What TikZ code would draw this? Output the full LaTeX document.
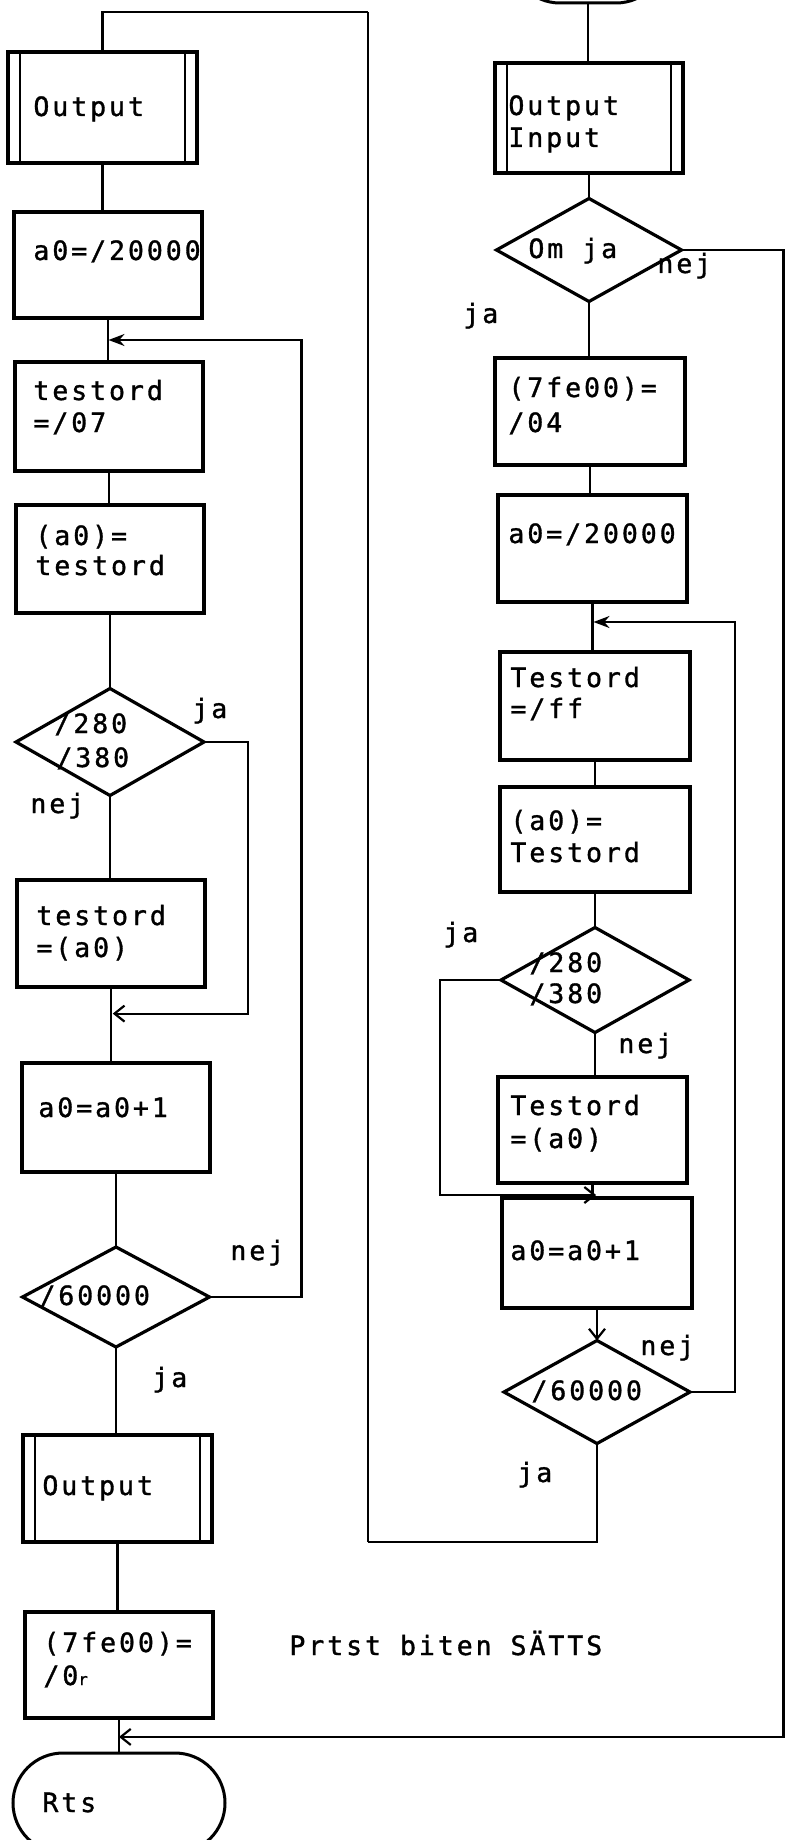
\documentclass[tikz,border=0pt]{standalone}
\usepackage{fontspec}
\newfontfamily\monof[LetterSpace=10.9,FakeBold=1.2]{DejaVu Sans Mono}
\usetikzlibrary{shapes.geometric,arrows.meta,calc}
\newcommand\bx[6][box]{\node[#1, minimum width={(#5-#3)*0.5pt}, minimum height={(#6-#4)*0.5pt}] (#2) at ({(#3+#5)/2},{(#4+#6)/2}) {};}
\newcommand\dm[5]{\node[dia, minimum width={#4*0.5pt}, minimum height={#5*0.5pt}] (#1) at (#2,#3) {};}
\tikzset{
  box/.style={draw, rectangle, line width=1.6pt, inner sep=0pt, outer sep=0pt},
  sub/.style={box},
  term/.style={draw, rectangle, rounded corners=25pt, line width=1.5pt, inner sep=0pt, outer sep=0pt},
  dia/.style={draw, diamond, line width=1.6pt, inner sep=0pt, outer sep=0pt},
  conn/.style={line width=1.1pt},
  longline/.style={line width=0.9pt},
  innerbar/.style={line width=1pt},
  txt/.style={inner sep=0pt, anchor=base west, font=\monof\fontsize{13.3}{16}\selectfont},
  fillarrow/.style={-{Stealth[length=8pt,width=6pt]}},
  barbarrow/.style={-{Straight Barb[length=5pt,width=8pt,line width=1.1pt]}}
}
\begin{document}
\begin{tikzpicture}[x=0.5pt,y=-0.5pt]
\useasboundingbox (0,0) rectangle (786,1840);
\clip (0,0) rectangle (786,1840);

% ---------------- left column ----------------
\bx[sub]{out1}{8}{52}{197}{163}
\bx{b1}{14}{212}{202}{318}
\bx{b2}{15}{362}{203}{471}
\bx{b3}{16}{505}{204}{613}
\dm{d1}{110}{742}{188}{107}
\bx{b4}{17}{880}{205}{987}
\bx{b5}{22}{1063}{210}{1172}
\dm{d2}{116}{1297}{187}{100}
\bx[sub]{out2}{23}{1435}{212}{1542}
\bx{b6}{25}{1612}{213}{1718}
\bx[term]{rts}{13}{1753}{225}{1853}

% ---------------- right column ----------------
\node[term, minimum width=78pt, minimum height=50pt] (start) at (588,-47) {};
\bx[sub]{outin}{495}{63}{683}{173}
\dm{d3}{589}{250}{185}{103}
\bx{b7}{495}{358}{685}{465}
\bx{b8}{498}{495}{687}{602}
\bx{b9}{500}{652}{690}{760}
\bx{b10}{500}{787}{690}{892}
\dm{d4}{595}{980}{188}{105}
\bx{b11}{498}{1077}{687}{1183}
\bx{b12}{502}{1198}{692}{1308}
\dm{d5}{597}{1392}{186}{103}

% subroutine bars
\foreach \n in {out1,out2,outin}{
  \draw[innerbar] ([xshift=6pt]\n.north west) -- ([xshift=6pt]\n.south west);
  \draw[innerbar] ([xshift=-6pt]\n.north east) -- ([xshift=-6pt]\n.south east);
}

% merge points
\coordinate (m1) at ($(b1.south)!0.5!(b2.north)$);
\coordinate (m2) at ($(b4.south)!0.35!(b5.north)$);
\coordinate (m3) at ($(b8.south)!0.4!(b9.north)$);
\coordinate (m4) at ($(b11.south)!0.8!(b12.north)$);
\coordinate (m5) at ($(b6.south)!0.54!(rts.north)$);
\coordinate (cA) at (368,1542);
\coordinate (cB) at (368,12);

% left connectors
\draw[conn] (out1.south) -- (out1.south |- b1.north);
\draw[conn] (b1.south) -- (b1.south |- b2.north);
\draw[conn] (b2.south) -- (b2.south |- b3.north);
\draw[conn] (b3.south) -- (d1.north);
\draw[conn] (d1.south) -- (d1.south |- b4.north);
\draw[conn] (b4.south) -- (b4.south |- b5.north);
\draw[conn] (b5.south) -- (d2.north);
\draw[conn] (d2.south) -- (d2.south |- out2.north);
\draw[conn] (out2.south) -- (out2.south |- b6.north);
\draw[conn] (b6.south) -- (b6.south |- rts.north);
\draw[conn, barbarrow] (d1.east) -- ++(44,0) |- (m2);
\draw[conn, fillarrow] (d2.east) -- ++(92,0) |- (m1);

% right connectors
\draw[conn] (start.south) -- (start.south |- outin.north);
\draw[conn] (outin.south) -- (d3.north);
\draw[conn] (d3.south) -- (d3.south |- b7.north);
\draw[conn] (b7.south) -- (b7.south |- b8.north);
\draw[conn] (b8.south) -- (b8.south |- b9.north);
\draw[conn] (b9.south) -- (b9.south |- b10.north);
\draw[conn] (b10.south) -- (d4.north);
\draw[conn] (d4.south) -- (d4.south |- b11.north);
\draw[conn] (b11.south) -- (b11.south |- b12.north);
\draw[conn, barbarrow] (b12.south) -- (d5.north);
\draw[conn, barbarrow] (d4.west) -- ++(-61,0) |- (m4);
\draw[conn, fillarrow] (d5.east) -- ++(45,0) |- (m3);
\draw[conn, barbarrow] (d3.east) -- ++(102,0) |- (m5);
\draw[conn] (d5.south) |- (cA);
\draw[longline] (cA) -- (cB);
\draw[conn] (cB) -| (out1.north);

% ---------------- texts ----------------
\node[txt] (t1) at (33,116) {Output};
\node[txt] (t2) at (33,260) {a0=/20000};
\node[txt] (t3a) at (33,400) {testord};
\node[txt] (t3b) at (33,432) {=/07};
\node[txt] (t4a) at (35,545) {(a0)=};
\node[txt] (t4b) at (35,575) {testord};
\node[txt] (t5a) at (54,733) {/280};
\node[txt] (t5b) at (56,767) {/380};
\node[txt] (l1) at (192,718) {ja};
\node[txt] (l2) at (30,813) {nej};
\node[txt] (t6a) at (36,925) {testord};
\node[txt] (t6b) at (36,957) {=(a0)};
\node[txt] (t7) at (38,1117) {a0=a0+1};
\node[txt] (t8) at (39,1305) {/60000};
\node[txt] (l3) at (230,1260) {nej};
\node[txt] (l4) at (152,1387) {ja};
\node[txt] (t9) at (42,1495) {Output};
\node[txt] (t10a) at (43,1652) {(7fe00)=};
\node[txt] (t10b) at (43,1685) {/0{\fontsize{8}{8}\selectfont r}};
\node[txt] (t11) at (289,1655) {Prtst biten SÄTTS};
\node[txt] (t12) at (42,1812) {Rts};

\node[txt] (r1a) at (508,115) {Output};
\node[txt] (r1b) at (508,147) {Input};
\node[txt] (r2) at (528,258) {Om ja};
\node[txt] (l5) at (657,273) {nej};
\node[txt] (l6) at (463,323) {ja};
\node[txt] (r3a) at (508,397) {(7fe00)=};
\node[txt] (r3b) at (508,432) {/04};
\node[txt] (r4) at (508,543) {a0=/20000};
\node[txt] (r5a) at (510,687) {Testord};
\node[txt] (r5b) at (510,718) {=/ff};
\node[txt] (r6a) at (510,830) {(a0)=};
\node[txt] (r6b) at (510,862) {Testord};
\node[txt] (r7a) at (529,972) {/280};
\node[txt] (r7b) at (529,1003) {/380};
\node[txt] (l7) at (443,942) {ja};
\node[txt] (l8) at (618,1053) {nej};
\node[txt] (r8a) at (510,1115) {Testord};
\node[txt] (r8b) at (510,1148) {=(a0)};
\node[txt] (r9) at (510,1260) {a0=a0+1};
\node[txt] (l9) at (640,1355) {nej};
\node[txt] (r10) at (531,1400) {/60000};
\node[txt] (l10) at (517,1482) {ja};
\end{tikzpicture}
\end{document}
